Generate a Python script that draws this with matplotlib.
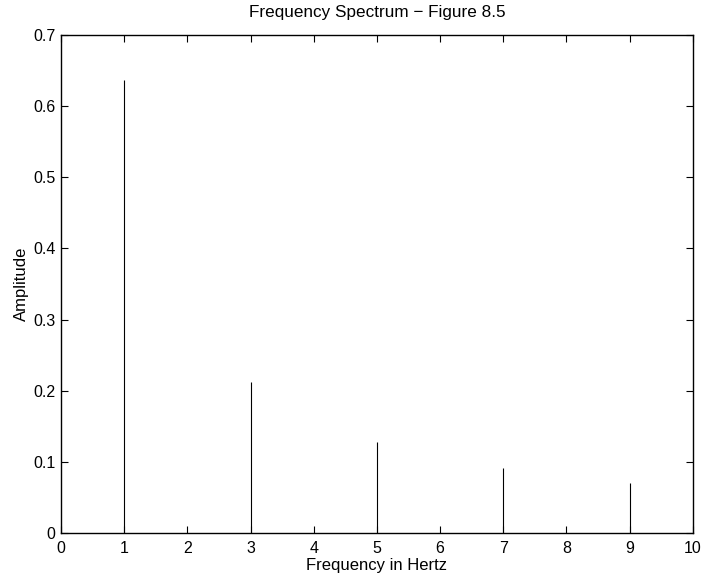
import matplotlib
matplotlib.use('Agg')
import matplotlib.pyplot as plt

# harmonics of a square wave (odd frequencies)
freqs = [1, 3, 5, 7, 9]
amps = [0.6366, 0.2122, 0.1273, 0.0909, 0.0707]

plt.rcParams['font.family'] = ['Liberation Sans', 'DejaVu Sans']

fig = plt.figure(figsize=(7.02, 5.75), dpi=100)
ax = fig.add_axes([0.0869, 0.073, 0.9, 0.866])

ax.vlines(freqs, 0, amps, color='black', linewidth=0.8)

ax.set_xlim(0, 10)
ax.set_ylim(0, 0.7)
ax.set_xticks(range(0, 11))
ax.set_yticks([0, 0.1, 0.2, 0.3, 0.4, 0.5, 0.6, 0.7])
ax.set_yticklabels(['0', '0.1', '0.2', '0.3', '0.4', '0.5', '0.6', '0.7'])
ax.tick_params(direction='in', top=True, right=True, labelsize=11.5,
               length=5, width=0.8)
ax.tick_params(axis='x', pad=6)
ax.tick_params(axis='y', pad=4)
for s in ax.spines.values():
    s.set_linewidth(1.0)

ax.set_title('Frequency Spectrum \u2212 Figure 8.5', fontsize=12.3, pad=13)
ax.set_xlabel('Frequency in Hertz', fontsize=12, labelpad=1)
ax.set_ylabel('Amplitude', fontsize=12, labelpad=3)

fig.savefig('out.png', dpi=100)
